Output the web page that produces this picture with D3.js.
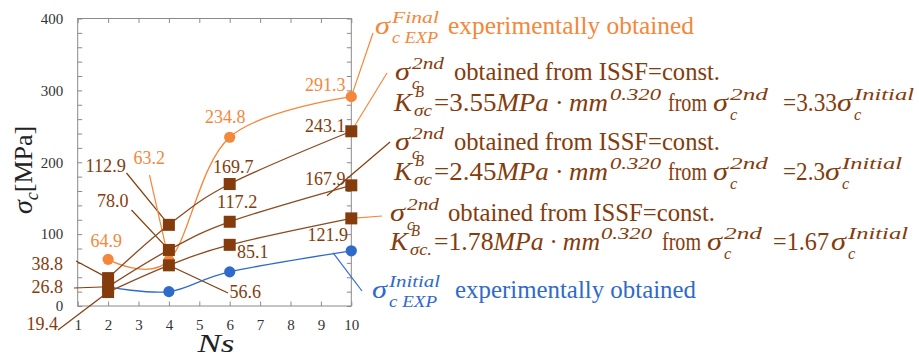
<!DOCTYPE html>
<html><head><meta charset="utf-8">
<script src="https://cdn.jsdelivr.net/npm/d3@7"></script>
<style>body{margin:0;background:#fff} svg{display:block}</style>
</head><body>
<svg id="chart" width="919" height="358"></svg>
<script>
// Number of steps Ns and the compressive strengths (MPa) for each series
const ns = [2, 4, 6, 10];
const finalExp = [64.9, 63.2, 234.8, 291.3];      // σc Final, experimental
const initialExp = [26.5, 20.0, 47.5, 76.8];      // σc Initial, experimental
const issf355 = [38.8, 112.9, 169.7, 243.1];      // 2nd, K = 3.55
const issf245 = [26.8, 78.0, 117.2, 167.9];       // 2nd, K = 2.45
const issf178 = [19.4, 56.6, 85.1, 121.9];        // 2nd, K = 1.78
const xTicks = [1, 2, 3, 4, 5, 6, 7, 8, 9, 10];
const yTicks = [0, 100, 200, 300, 400];
const yMinor = d3.range(0, 401, 20);

const BROWN = "#843C0C", ORANGE = "#F4873A", BLUE = "#2F6ACB", AXIS = "#8a8a8a";

const svg = d3.select("#chart");

// pick the first installed Times-like face
function hasFont(name) {
  const p = svg.append("text").attr("font-size", 40).text("mmmwwwlliI0");
  p.attr("font-family", "monospace");
  const base = p.node().getComputedTextLength();
  p.attr("font-family", `'${name}', monospace`);
  const w = p.node().getComputedTextLength();
  p.remove();
  return Math.abs(w - base) > 0.5;
}
const serifName = ["Liberation Serif", "Tinos", "Times New Roman", "Nimbus Roman", "DejaVu Serif"]
  .find(hasFont) || "DejaVu Serif";
const SERIF = `'${serifName}', serif`;

const x = d3.scaleLinear([1, 10], [77.7, 351.3]);
const y = d3.scaleLinear([0, 400], [306, 18.5]);

// frame
svg.append("rect").attr("x", x(1)).attr("y", y(400))
  .attr("width", x(10) - x(1)).attr("height", y(0) - y(400))
  .attr("fill", "none").attr("stroke", AXIS).attr("stroke-width", 1);

function styleAxis(g) {
  g.attr("font-family", SERIF);
  g.select(".domain").remove();
  g.selectAll(".tick line").attr("stroke", AXIS);
  g.selectAll("text").attr("font-family", SERIF).attr("font-size", 15).attr("fill", "#333");
}
// inward ticks on all four sides
svg.append("g").attr("transform", `translate(${x(1)},0)`)
  .call(d3.axisLeft(y).tickValues(yMinor).tickSize(-4.5).tickFormat("")).call(styleAxis);
svg.append("g").attr("transform", `translate(${x(10)},0)`)
  .call(d3.axisRight(y).tickValues(yMinor).tickSize(-4.5).tickFormat("")).call(styleAxis);
svg.append("g").attr("transform", `translate(0,${y(0)})`)
  .call(d3.axisBottom(x).tickValues(xTicks).tickSize(-4.5).tickFormat("")).call(styleAxis);
svg.append("g").attr("transform", `translate(0,${y(400)})`)
  .call(d3.axisTop(x).tickValues(xTicks).tickSize(-4.5).tickFormat("")).call(styleAxis);
// tick labels
svg.append("g").attr("transform", `translate(${x(1)},0)`)
  .call(d3.axisLeft(y).tickValues(yTicks).tickSize(0).tickPadding(14.5)).call(styleAxis);
svg.append("g").attr("transform", `translate(0,${y(0)})`)
  .call(d3.axisBottom(x).tickValues(xTicks).tickSize(0).tickPadding(13)).call(styleAxis);

// axis titles
const yt = svg.append("text").attr("transform", "translate(32,214) rotate(-90)")
  .attr("text-anchor", "start").attr("fill", "#222").attr("font-family", SERIF);
yt.append("tspan").attr("font-style", "italic").attr("font-size", 28).text("σ");
yt.append("tspan").attr("font-style", "italic").attr("font-size", 18).attr("dy", 6).text("c");
yt.append("tspan").attr("font-size", 26).attr("dy", -6).text("[MPa]");
svg.append("text").attr("x", 216).attr("y", 352).attr("text-anchor", "middle")
  .attr("font-family", SERIF).attr("font-style", "italic").attr("font-size", 25).attr("fill", "#222")
  .attr("textLength", 37).attr("lengthAdjust", "spacingAndGlyphs").text("Ns");

// leader lines: [data point, label end point, colour]
const pt = (vals, i) => [x(ns[i]), y(vals[i])];
const leaders = [
  [pt(issf355, 1), [126.5, 173], BROWN],
  [pt(finalExp, 1), [149.5, 175], ORANGE],
  [pt(issf245, 1), [131.5, 210], BROWN],
  [pt(issf178, 1), [228, 293], BROWN],
  [pt(issf355, 0), [76, 261], BROWN],
  [pt(issf245, 0), [74, 288], BROWN],
  [pt(issf178, 0), [58, 330], BROWN],
  [pt(finalExp, 3), [373, 33], ORANGE],
  [pt(issf355, 3), [387, 73], ORANGE],
  [[x(9.2), y(153.5)], [390, 142], BROWN],
  [pt(issf178, 3), [382, 216], ORANGE],
  [[x(9.4), y(74)], [362, 291], BLUE]
];
svg.append("g").selectAll("line").data(leaders).join("line")
  .attr("x1", d => d[0][0]).attr("y1", d => d[0][1])
  .attr("x2", d => d[1][0]).attr("y2", d => d[1][1])
  .attr("stroke", d => d[2]).attr("stroke-width", 1.2);

// series curves
const curve = d3.line().x((d, i) => x(ns[i])).y(d => y(d)).curve(d3.curveCardinal.tension(0));
const series = [
  [initialExp, BLUE], [finalExp, ORANGE],
  [issf355, "#8B4A20"], [issf245, "#8B4A20"], [issf178, "#8B4A20"]
];
svg.append("g").selectAll("path").data(series).join("path")
  .attr("d", d => curve(d[0])).attr("fill", "none")
  .attr("stroke", d => d[1]).attr("stroke-width", 1.3);

// value labels
const vlabels = [
  ["112.9", 126, 172, BROWN], ["63.2", 165, 163.5, ORANGE], ["78.0", 128.5, 207, BROWN],
  ["64.9", 122, 247, ORANGE], ["38.8", 63, 269.5, BROWN], ["26.8", 63, 293, BROWN],
  ["19.4", 58, 330, BROWN], ["234.8", 245.5, 123, ORANGE], ["291.3", 345.5, 91, ORANGE],
  ["243.1", 345.5, 132, BROWN], ["169.7", 253.5, 173, BROWN], ["167.9", 345.5, 185, BROWN],
  ["117.2", 257.5, 208, BROWN], ["85.1", 268.5, 258, BROWN], ["121.9", 348, 241, BROWN],
  ["56.6", 261, 298, BROWN]
];
svg.append("g").selectAll("text").data(vlabels).join("text")
  .attr("x", d => d[1]).attr("y", d => d[2]).attr("text-anchor", "end")
  .attr("font-family", SERIF).attr("font-size", 18).attr("fill", d => d[3])
  .attr("textLength", d => d[0].length === 5 ? 40.5 : 31.5).attr("lengthAdjust", "spacingAndGlyphs")
  .text(d => d[0]);

// markers
const circ = (vals, col) => svg.append("g").selectAll("circle").data(vals).join("circle")
  .attr("cx", (d, i) => x(ns[i])).attr("cy", d => y(d)).attr("r", 5.6).attr("fill", col);
circ(finalExp, ORANGE);
circ(initialExp, BLUE);
for (const s of [issf355, issf245, issf178]) {
  svg.append("g").selectAll("rect").data(s).join("rect")
    .attr("x", (d, i) => x(ns[i]) - 6).attr("y", d => y(d) - 6)
    .attr("width", 12).attr("height", 12).attr("fill", BROWN);
}

// annotation text
const ann = svg.append("g");
function put(px, py, txt, o) {
  const t = ann.append("text").attr("x", px).attr("y", py).attr("fill", o.c)
    .attr("font-family", SERIF).attr("font-style", o.m ? "italic" : "normal")
    .attr("font-size", o.s).text(txt);
  if (o.w) t.attr("textLength", o.w).attr("lengthAdjust", "spacingAndGlyphs");
  return t;
}
function sigma(px, B, sup, supW, sub, subW, c) {
  put(px, B, "σ", { m: 1, s: 25, c, w: 15 });
  put(px + 17, B - 11, sup, { m: 1, s: 16.5, c, w: supW });
  put(px + 17, B + 9, sub, { m: 1, s: 16.5, c, w: subW });
}
function kLine(B, xK, sub, subW, k, wCoef, xExp, xFrom, xS, ratio, xR, wR, xS2, c) {
  put(xK, B, "K", { m: 1, s: 25, c, w: 18 });
  put(xK + 21, B - 14, "B", { m: 1, s: 16.5, c, w: 9 });
  put(xK + 20, B + 5, sub, { m: 1, s: 16.5, c, w: subW });
  const t = put(434, B, "", { s: 25, c, w: wCoef });
  t.append("tspan").text("=" + k);
  t.append("tspan").attr("font-style", "italic").text("MPa · mm");
  put(xExp, B - 11, "0.320", { m: 1, s: 16.5, c, w: 51 });
  put(xFrom, B, "from", { s: 24.5, c, w: 39 });
  sigma(xS, B, "2nd", 38, "c", 0, c);
  put(xR, B, "=" + ratio, { s: 24.5, c, w: wR });
  sigma(xS2, B, "Initial", 60, "c", 0, c);
}

sigma(375, 34, "Final", 47, "c EXP", 46, ORANGE);
put(448, 34, "experimentally obtained", { s: 24.8, c: ORANGE, w: 246 });

sigma(395, 80, "2nd", 32, "c", 0, BROWN);
put(454, 80, "obtained from ISSF=const.", { s: 24.5, c: BROWN, w: 266 });
kLine(111, 394, "σc", 18, "3.55", 174, 610, 668, 713, "3.33", 783, 54, 837, BROWN);

sigma(395, 150, "2nd", 32, "c", 0, BROWN);
put(454, 150, "obtained from ISSF=const.", { s: 24.5, c: BROWN, w: 266 });
kLine(180, 394, "σc", 18, "2.45", 174, 610, 668, 713, "2.3", 783, 42, 825, BROWN);

sigma(390, 221, "2nd", 32, "c", 0, BROWN);
put(448, 221, "obtained from ISSF=const.", { s: 24.5, c: BROWN, w: 267 });
kLine(250, 390, "σc.", 22, "1.78", 166, 601, 662, 707, "1.67", 773, 56, 831, BROWN);

sigma(372, 298, "Initial", 51, "c EXP", 48, BLUE);
put(455, 298, "experimentally obtained", { s: 24.8, c: BLUE, w: 241 });
</script>
</body></html>
